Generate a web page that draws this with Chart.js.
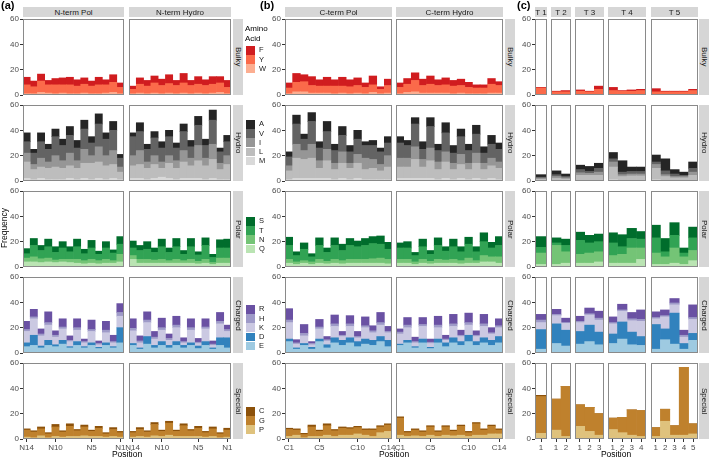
<!DOCTYPE html>
<html>
<head>
<meta charset="utf-8">
<script src="https://cdn.jsdelivr.net/npm/chart.js@4"></script>
<style>
  body { margin: 0; background: #fff; font-family: "Liberation Sans", Arial, sans-serif; }
  #fig { position: relative; width: 709px; height: 459px; overflow: hidden; }
  .box { position: absolute; }
  .strip { position: absolute; background: #d6d6d6; color: #1a1a1a; font-size: 8px;
           display: flex; align-items: center; justify-content: center; white-space: nowrap; }
  .strip.v { writing-mode: vertical-rl; }
  .txt { position: absolute; white-space: nowrap; color: #000; }
  .key { position: absolute; width: 9px; }
</style>
</head>
<body>
<div id="fig"></div>
<script>
// positions (x categories)
const nLabels = ['N14','N13','N12','N11','N10','N9','N8','N7','N6','N5','N4','N3','N2','N1'];
const cLabels = ['C1','C2','C3','C4','C5','C6','C7','C8','C9','C10','C11','C12','C13','C14'];
const nTicks = ['N14','N10','N5','N1'];
const cTicks = ['C1','C5','C10','C14'];
const turnNames = ['T 1','T 2','T 3','T 4','T 5'];
const turnSizes = [1, 2, 3, 4, 5];
const rowNames = ['Bulky','Hydro','Polar','Charged','Special'];
const rowAminos = [['F','Y','W'], ['A','V','I','L','M'], ['S','T','N','Q'], ['R','H','K','D','E'], ['C','G','P']];
const yTicks = [0, 20, 40, 60];

// Bulky
const nPol_F = [6,4.5,5.5,3.5,5,5.5,6,5,5,4,6,4,6,3.5];
const nPol_Y = [7,5.5,9,6.5,7,6.5,7,6,7,6,7,6.5,8,5];
const nPol_W = [1,1,2,1.5,1,1.5,1,1,1.5,1,1,1.5,2,1];
const nHyd_F = [2.5,5,4.5,5.5,5,7,4,7.5,4,6,4.5,6,5,5.5];
const nHyd_Y = [3.5,7,6,8,6.5,7.5,6.5,8,6.5,7,6.5,7,7.5,5];
const nHyd_W = [1,1.5,1,1.5,1,1.5,1,1.5,1,1.5,1,1.5,2,1];
const cPol_F = [4,7,5.5,7,5,7,5,7,5.5,6,3.5,7,2,5];
const cPol_Y = [4.5,7.5,8,6,5.5,5.5,6,5.5,5.5,6,5,6,3.5,6];
const cPol_W = [1,2.5,2.5,1.5,1.5,1.5,1,1.5,1,1.5,1,2,1,1.5];
const cHyd_F = [3.5,4.5,6,5,6.5,4.5,5.5,4.5,5,4,2.5,2.5,4.5,3];
const cHyd_Y = [5,6.5,9,6,7,6,6.5,6,6,5,4.5,4.5,7,6];
const cHyd_W = [1,2,2.5,1.5,1.5,1.5,1.5,1,1.5,1,1,1,1.5,1.5];
const turn_F = [0.5, 0.5,1, 1,0.5,2.5, 2.5,0.5,1,1, 2.5,0.5,0.5,0.5,1];
const turn_Y = [5, 2,2, 2.5,2,4, 3,2.5,2.5,3, 2,2,2,2,3];
const turn_W = [0.5, 0.5,0.5, 0.5,0.5,0.5, 0.5,0.5,0.5,0.5, 0.5,0.5,0.5,0.5,0.5];

// Hydro
const nPol_A = [7,3,7,4,6,5,7,6,7,5,8,5,7,3];
const nPol_V = [9,9,13,10,15,12,14,10,16,10,18,13,16,7];
const nPol_I = [7,4,7,5,9,6,10,6,11,6,12,8,11,4];
const nPol_L = [13,8,9,9,10,9,10,9,12,13,13,11,11,6];
const nPol_M = [2,1,2,1,1,1,2,1,2,1,2,1,2,1];
const nHyd_A = [3,7,4,5,5,5,4,6,5,7,5,8,3,5];
const nHyd_V = [15,15,10,14,11,15,10,15,9,16,10,19,9,11];
const nHyd_I = [8,11,5,7,5,6,6,9,6,12,6,12,5,7];
const nHyd_L = [10,11,9,11,7,12,9,13,10,14,11,15,8,12];
const nHyd_M = [2,2,1,2,3,2,1,2,2,2,1,2,1,1];
const cPol_A = [4,7,4,7,5,8,5,7,5,7,3,4,3,5];
const cPol_V = [7,16,9,18,10,14,10,13,9,12,10,11,10,10];
const cPol_I = [4,11,7,11,6,9,5,9,4,7,9,7,5,9];
const cPol_L = [7,16,15,16,8,14,8,12,9,12,8,9,7,10];
const cPol_M = [1,2,2,2,2,2,1,2,1,2,1,1,1,1];
const cHyd_A = [5,4,5,6,7,5,8,6,6,5,7,5,7,5];
const cHyd_V = [12,10,18,8,17,9,15,8,14,10,15,8,11,10];
const cHyd_I = [7,7,10,6,10,6,8,5,8,5,8,5,6,5];
const cHyd_L = [9,9,15,9,14,8,13,8,11,8,12,8,10,9];
const cHyd_M = [2,2,2,2,2,1,2,1,2,1,2,1,2,1];
const turn_A = [2, 3,2, 3.5,4,4, 5,9,3.5,3.5, 5.5,9.5,3.5,2.5,5];
const turn_V = [0.7, 1.5,1, 2.5,1.5,3, 2.5,2,2,2, 2,3,2,1,3];
const turn_I = [1, 1.5,1, 2,1.5,2.5, 4,1.5,1.5,1.5, 3,1.5,1,1,2.5];
const turn_L = [1, 1.5,1, 4,4,4, 10,3,3.5,3.5, 9,3,2,2,4];
const turn_M = [0.3, 0.5,0.5, 0.5,0.5,0.5, 1,0.5,0.5,0.5, 1,0.5,0.5,0.5,0.5];

// Polar
const nPol_S = [4,5.5,4,6,4.5,5,4,6,3.5,6,2.5,5,2.5,6];
const nPol_T = [3.5,9,6.5,9,6,9,6,10,5.5,9,5,9,6,8];
const nPol_N = [3,4,3,3,2,2,2.5,3,2.5,3,2.5,3,2,6];
const nPol_Q = [4,4,3.5,4,3.5,4,3.5,3,2.5,3,2.5,3,3,4];
const nHyd_S = [5.5,4,6,3.5,6,3.5,6.5,3,6.5,2.5,6,2.5,6.5,7];
const nHyd_T = [6,7,8,6,10,6.5,10,5,10,5,11,4,8,8];
const nHyd_N = [3,3,3,2.5,3,2,3,2,3,2,3,1.5,4,4];
const nHyd_Q = [6,3,3,3,3,3,3,3,3,2.5,3,2,3,3];
const cPol_S = [6.5,3,5,2.5,6,3.5,6,5,5.5,4.5,5.5,5.5,6.5,5.5];
const cPol_T = [11,5,9,4,11,7,11,8,11,10,11,12,11,8];
const cPol_N = [3,2,2,2,3,2,3,2.5,3,3,3,3.5,4,3.5];
const cPol_Q = [3,2,3,2,3,2.5,3,2.5,3,3,3,3,3,2.5];
const cHyd_S = [4,5,2.5,6,3,6,3.5,6,4,5.5,4,7,4.5,7];
const cHyd_T = [9,9,5,10,5.5,11,7,10,7,11,7,11,7,9];
const cHyd_N = [3,3,2,3,2,3,2.5,3,2.5,4,2,5,4,5];
const cHyd_Q = [3,3,2,3,2.5,3,3,3,2.5,3,3,4,4,3];
const turn_S = [8.5, 4,5, 6.5,6,6, 8,9.5,8,6, 10,10.5,10,4,8.5];
const turn_T = [4.5, 2,5, 11,8,8, 10,6,7.5,7, 12,4,10,3,10];
const turn_N = [9, 15,9, 7,8,8, 6,7,12,9, 9,6,12,6,8];
const turn_Q = [2, 2,3, 3,3,4, 3,3,3,6, 2,2,3,2,5];

// Charged
const nPol_R = [6.5,6,4,8.5,3.5,6.5,3.5,7,2,7.5,2,7,5,7];
const nPol_H = [1.5,1.5,1.5,2,1.5,1.5,1,2,1,1.5,1,2,1,3];
const nPol_K = [9,13,8,12,6,9,4,9,3,9,2,8,3,9];
const nPol_D = [3,8,1.5,4,1.5,3,1,3,1,2,1,2,1,12];
const nPol_E = [5,6,4,6,5,7,4,6,4,6,3.5,6,4,8];
const nHyd_R = [7.5,4,6.5,4.5,7.5,3.5,7,3,7,3,6.5,2.5,7,3.5];
const nHyd_H = [2,1.5,2,1.5,2,1.5,2,1,2,1,1.5,1,2,1.5];
const nHyd_K = [10,4,11,5,9,4,11,2,10,2,10,2,11,5];
const nHyd_D = [1.5,1,6,2,3,2,3,2,2,2,3,1,6,8];
const nHyd_E = [6,3,7,4,6,4,6,4,6,3.5,6,3,6,4];
const cPol_R = [9,2.5,7,1.5,6,2.5,7,3,6.5,4,7,4,8,4];
const cPol_H = [2,1,2,1,1.5,1,2,1,2,1,1.5,1.5,2,1];
const cPol_K = [13,3,6,2,8,3,9,3,9,3,9,6,9,6];
const cPol_D = [2,1,1.5,1.5,2,2.5,4,4,4,4,4,4,4,5];
const cPol_E = [9,3,6,3,9,4,8,6,8,5,7,6,9,5];
const cHyd_R = [2.5,6,3.5,5.5,2.5,7,3,7.5,4,7.5,3.5,7.5,4,5.5];
const cHyd_H = [1.5,2,1,1.5,1,2,1,2,1,2,1,2,1,1.5];
const cHyd_K = [8,10,3,10,3,9,2,9,4,8,4,9,5,7];
const cHyd_D = [1,2,1,3,1,3,3,4,3,5,3,4,4,5];
const cHyd_E = [6,8,4,8,3.5,8,5,8,6,9,6,8,6,8];
const turn_R = [4.5, 4,3.5, 4,4.5,5.5, 4.5,4.5,5,7.5, 4.5,4.5,3.5,4,10];
const turn_H = [2, 1,0.5, 1,1,1.5, 1,1,1.5,1.5, 1,1,1.5,1.5,1.5];
const turn_K = [5.5, 6.5,5.5, 7,8,9.5, 8,8.5,9,12, 4.5,9.5,6.5,5,11];
const turn_D = [15.5, 15.5,12.5, 10,13,10, 7.5,13.5,10,7, 19.5,8.5,24.5,4.5,5.5];
const turn_E = [3, 7.5,5.5, 7,9,6.5, 7.5,11,6.5,6, 3,10.5,7,3,10];

// Special
const nPol_C = [1,1,1.5,1,2,1,2,1,1.5,1,1.5,1,1.5,1];
const nPol_G = [5.5,4.5,5.5,3,7.5,4,8,4.5,7,4,6.5,2.5,5.5,3.5];
const nPol_P = [1.5,1,2.5,1,2,1.5,2,2,2.5,2,2,1.5,2,1.5];
const nHyd_C = [1,1.5,1,1.5,1,1.5,1,1.5,1,1.5,1,1.5,1,1.5];
const nHyd_G = [3.5,5.5,4,9,4,9.5,4,8.5,4.5,6.5,3.5,6,3,5.5];
const nHyd_P = [1.5,2,1.5,2.5,2,3,2,2,2,2,1.5,2,1,1.5];
const cPol_C = [1,1,1,1.5,1,1.5,1,1,1,1,1,1,1,1];
const cPol_G = [5.5,4,2.5,7.5,4,7.5,4.5,5.5,5,5,4,5,4.5,5];
const cPol_P = [2,3,1,2,2,3,2,3,3,4,3,2,5,6];
const cHyd_C = [1,1,1,1,1,1,1,1,1,1,1,1,1,1];
const cHyd_G = [13.5,3,4.5,3.5,6.5,3.5,6.5,3.5,7,3,9,4,6,3];
const cHyd_P = [3,2,2.5,2,3,2,3,2.5,3,2,3,3,4,4];
const turn_C = [1, 0,0, 0,0,0, 0,0,0,0, 0,0,0,0,0];
const turn_G = [29, 24.5,39.5, 17,19,17, 9,12,20,20.5, 7,9.5,7.5,53.5,8];
const turn_P = [4.5, 7,2, 10,6,3, 7.5,5,3,2, 2,14,3,3,4];

const table = {
  nPol: {F:nPol_F,Y:nPol_Y,W:nPol_W,A:nPol_A,V:nPol_V,I:nPol_I,L:nPol_L,M:nPol_M,S:nPol_S,T:nPol_T,N:nPol_N,Q:nPol_Q,R:nPol_R,H:nPol_H,K:nPol_K,D:nPol_D,E:nPol_E,C:nPol_C,G:nPol_G,P:nPol_P},
  nHyd: {F:nHyd_F,Y:nHyd_Y,W:nHyd_W,A:nHyd_A,V:nHyd_V,I:nHyd_I,L:nHyd_L,M:nHyd_M,S:nHyd_S,T:nHyd_T,N:nHyd_N,Q:nHyd_Q,R:nHyd_R,H:nHyd_H,K:nHyd_K,D:nHyd_D,E:nHyd_E,C:nHyd_C,G:nHyd_G,P:nHyd_P},
  cPol: {F:cPol_F,Y:cPol_Y,W:cPol_W,A:cPol_A,V:cPol_V,I:cPol_I,L:cPol_L,M:cPol_M,S:cPol_S,T:cPol_T,N:cPol_N,Q:cPol_Q,R:cPol_R,H:cPol_H,K:cPol_K,D:cPol_D,E:cPol_E,C:cPol_C,G:cPol_G,P:cPol_P},
  cHyd: {F:cHyd_F,Y:cHyd_Y,W:cHyd_W,A:cHyd_A,V:cHyd_V,I:cHyd_I,L:cHyd_L,M:cHyd_M,S:cHyd_S,T:cHyd_T,N:cHyd_N,Q:cHyd_Q,R:cHyd_R,H:cHyd_H,K:cHyd_K,D:cHyd_D,E:cHyd_E,C:cHyd_C,G:cHyd_G,P:cHyd_P},
  turn: {F:turn_F,Y:turn_Y,W:turn_W,A:turn_A,V:turn_V,I:turn_I,L:turn_L,M:turn_M,S:turn_S,T:turn_T,N:turn_N,Q:turn_Q,R:turn_R,H:turn_H,K:turn_K,D:turn_D,E:turn_E,C:turn_C,G:turn_G,P:turn_P}
};

const colors = {
  F:'#d01c1f', Y:'#fb6a4a', W:'#fcae91',
  A:'#252525', V:'#636363', I:'#969696', L:'#bdbdbd', M:'#d9d9d9',
  S:'#006d2c', T:'#31a354', N:'#74c476', Q:'#bae4b3',
  R:'#6a51a3', H:'#9e9ac8', K:'#cbc9e2', D:'#3182bd', E:'#9ecae1',
  C:'#8c510a', G:'#bf812d', P:'#dfc27d'
};

const FONT = '"Liberation Sans", Arial, sans-serif';
const fig = document.getElementById('fig');

// facet columns
const cols = [
  {grp:0, name:'N-term Pol',   x:23,  w:101, key:'nPol', from:0, labels:nLabels, ticks:nTicks, first:true},
  {grp:0, name:'N-term Hydro', x:129, w:102, key:'nHyd', from:0, labels:nLabels, ticks:nTicks, first:false},
  {grp:1, name:'C-term Pol',   x:285, w:107, key:'cPol', from:0, labels:cLabels, ticks:cTicks, first:true},
  {grp:1, name:'C-term Hydro', x:396, w:107, key:'cHyd', from:0, labels:cLabels, ticks:cTicks, first:false}
];
const turnX = [535, 551, 575, 608, 651];
const turnW = [12, 20, 29, 38, 47];
let start = 0;
turnSizes.forEach((n, i) => {
  const labels = [];
  for (let k = 1; k <= n; k++) labels.push(String(k));
  cols.push({grp:2, name:turnNames[i], x:turnX[i], w:turnW[i], key:'turn', from:start, labels:labels, ticks:labels, first:i === 0});
  start += n;
});

const ROW_TOP = 19, ROW_STEP = 86, ROW_H = 76;

const panelBorder = {
  id: 'panelBorder',
  afterDatasetsDraw(chart) {
    const a = chart.chartArea, ctx = chart.ctx;
    ctx.save();
    ctx.strokeStyle = '#8a8a8a';
    ctx.lineWidth = 1;
    ctx.strokeRect(Math.round(a.left) + 0.5, Math.round(a.top) + 0.5, Math.round(a.right - a.left) - 1, Math.round(a.bottom - a.top) - 1);
    ctx.restore();
  }
};

function addDiv(cls, css, text) {
  const d = document.createElement('div');
  d.className = cls;
  Object.assign(d.style, css);
  if (text !== undefined) d.textContent = text;
  fig.appendChild(d);
  return d;
}

function makeChart(col, r) {
  const bottomRow = r === rowNames.length - 1;
  const L = col.first ? 22 : 8;
  const R = 8, T = 5, B = bottomRow ? 15 : 5;
  const top = ROW_TOP + ROW_STEP * r;
  const box = addDiv('box', {left: (col.x - L) + 'px', top: (top - T) + 'px'});
  const cv = document.createElement('canvas');
  cv.width = col.w + L + R;
  cv.height = ROW_H + T + B;
  box.appendChild(cv);

  const aminos = rowAminos[r].slice().reverse();
  const datasets = aminos.map(a => ({
    label: a,
    data: table[col.key][a].slice(col.from, col.from + col.labels.length),
    backgroundColor: colors[a],
    borderWidth: 0,
    barPercentage: 1,
    categoryPercentage: 1
  }));

  new Chart(cv, {
    type: 'bar',
    data: { labels: col.labels, datasets: datasets },
    options: {
      responsive: false,
      animation: false,
      devicePixelRatio: 1,
      events: [],
      layout: { padding: { left: col.first ? 0 : L, right: R, top: T, bottom: bottomRow ? 0 : B } },
      plugins: { legend: { display: false }, tooltip: { enabled: false } },
      scales: {
        x: {
          stacked: true,
          display: bottomRow,
          offset: true,
          border: { display: false },
          grid: {
            drawOnChartArea: false, drawTicks: true, tickLength: 3, offset: false, tickWidth: 1,
            tickColor: ctx => col.ticks.includes(col.labels[ctx.index]) ? '#333333' : 'rgba(0,0,0,0)'
          },
          ticks: {
            autoSkip: false, maxRotation: 0, minRotation: 0, padding: 1,
            color: '#4d4d4d', font: { family: FONT, size: 8 },
            callback: (v, i) => col.ticks.includes(col.labels[i]) ? col.labels[i] : ''
          },
          afterFit: s => { s.height = bottomRow ? 15 : 0; s.paddingLeft = 0; s.paddingRight = 0; }
        },
        y: {
          stacked: true,
          display: col.first,
          min: 0, max: 60,
          border: { display: false },
          grid: { drawOnChartArea: false, drawTicks: true, tickLength: 3, tickColor: '#333333', tickWidth: 1 },
          ticks: {
            stepSize: 20, padding: 1, color: '#4d4d4d', font: { family: FONT, size: 8 },
            callback: v => yTicks.includes(v) ? String(v) : ''
          },
          afterFit: s => { s.width = col.first ? L : 0; s.paddingTop = 0; s.paddingBottom = 0; }
        }
      }
    },
    plugins: [panelBorder]
  });
}

// charts
cols.forEach(col => {
  for (let r = 0; r < rowNames.length; r++) makeChart(col, r);
});

// top strips
cols.forEach(col => {
  addDiv('strip', {left: col.x + 'px', top: '7px', width: col.w + 'px', height: '10px'}, col.name);
});

// right strips
const stripX = [233, 505, 699];
stripX.forEach(sx => {
  rowNames.forEach((name, r) => {
    addDiv('strip v', {left: sx + 'px', top: (ROW_TOP + ROW_STEP * r) + 'px', width: '10px', height: ROW_H + 'px'}, name);
  });
});

// panel letters
addDiv('txt', {left: '1px', top: '-1px', fontSize: '11px', fontWeight: 'bold'}, '(a)');
addDiv('txt', {left: '260px', top: '-1px', fontSize: '11px', fontWeight: 'bold'}, '(b)');
addDiv('txt', {left: '517px', top: '-1px', fontSize: '11px', fontWeight: 'bold'}, '(c)');

// axis titles
addDiv('txt', {left: '-18px', top: '223px', width: '44px', textAlign: 'center', fontSize: '8.5px',
  transform: 'rotate(-90deg)'}, 'Frequency');
const posCenters = [127, 394, 616];
posCenters.forEach(cx => {
  addDiv('txt', {left: (cx - 30) + 'px', top: '450px', width: '60px', textAlign: 'center', fontSize: '8.5px', lineHeight: '9px'}, 'Position');
});

// legends
const title = addDiv('txt', {left: '245px', top: '24px', fontSize: '8px', lineHeight: '9.5px'});
title.innerHTML = 'Amino<br>Acid';
const legendTop = [46, 120, 217, 305, 407];
rowAminos.forEach((list, r) => {
  list.forEach((a, k) => {
    const y = legendTop[r] + k * 9.2;
    addDiv('key', {left: '246px', top: y + 'px', height: '8.7px', background: colors[a]});
    addDiv('txt', {left: '259px', top: (y + 0.3) + 'px', fontSize: '7.5px', color: '#1a1a1a', lineHeight: '8.7px'}, a);
  });
});
</script>
</body>
</html>
